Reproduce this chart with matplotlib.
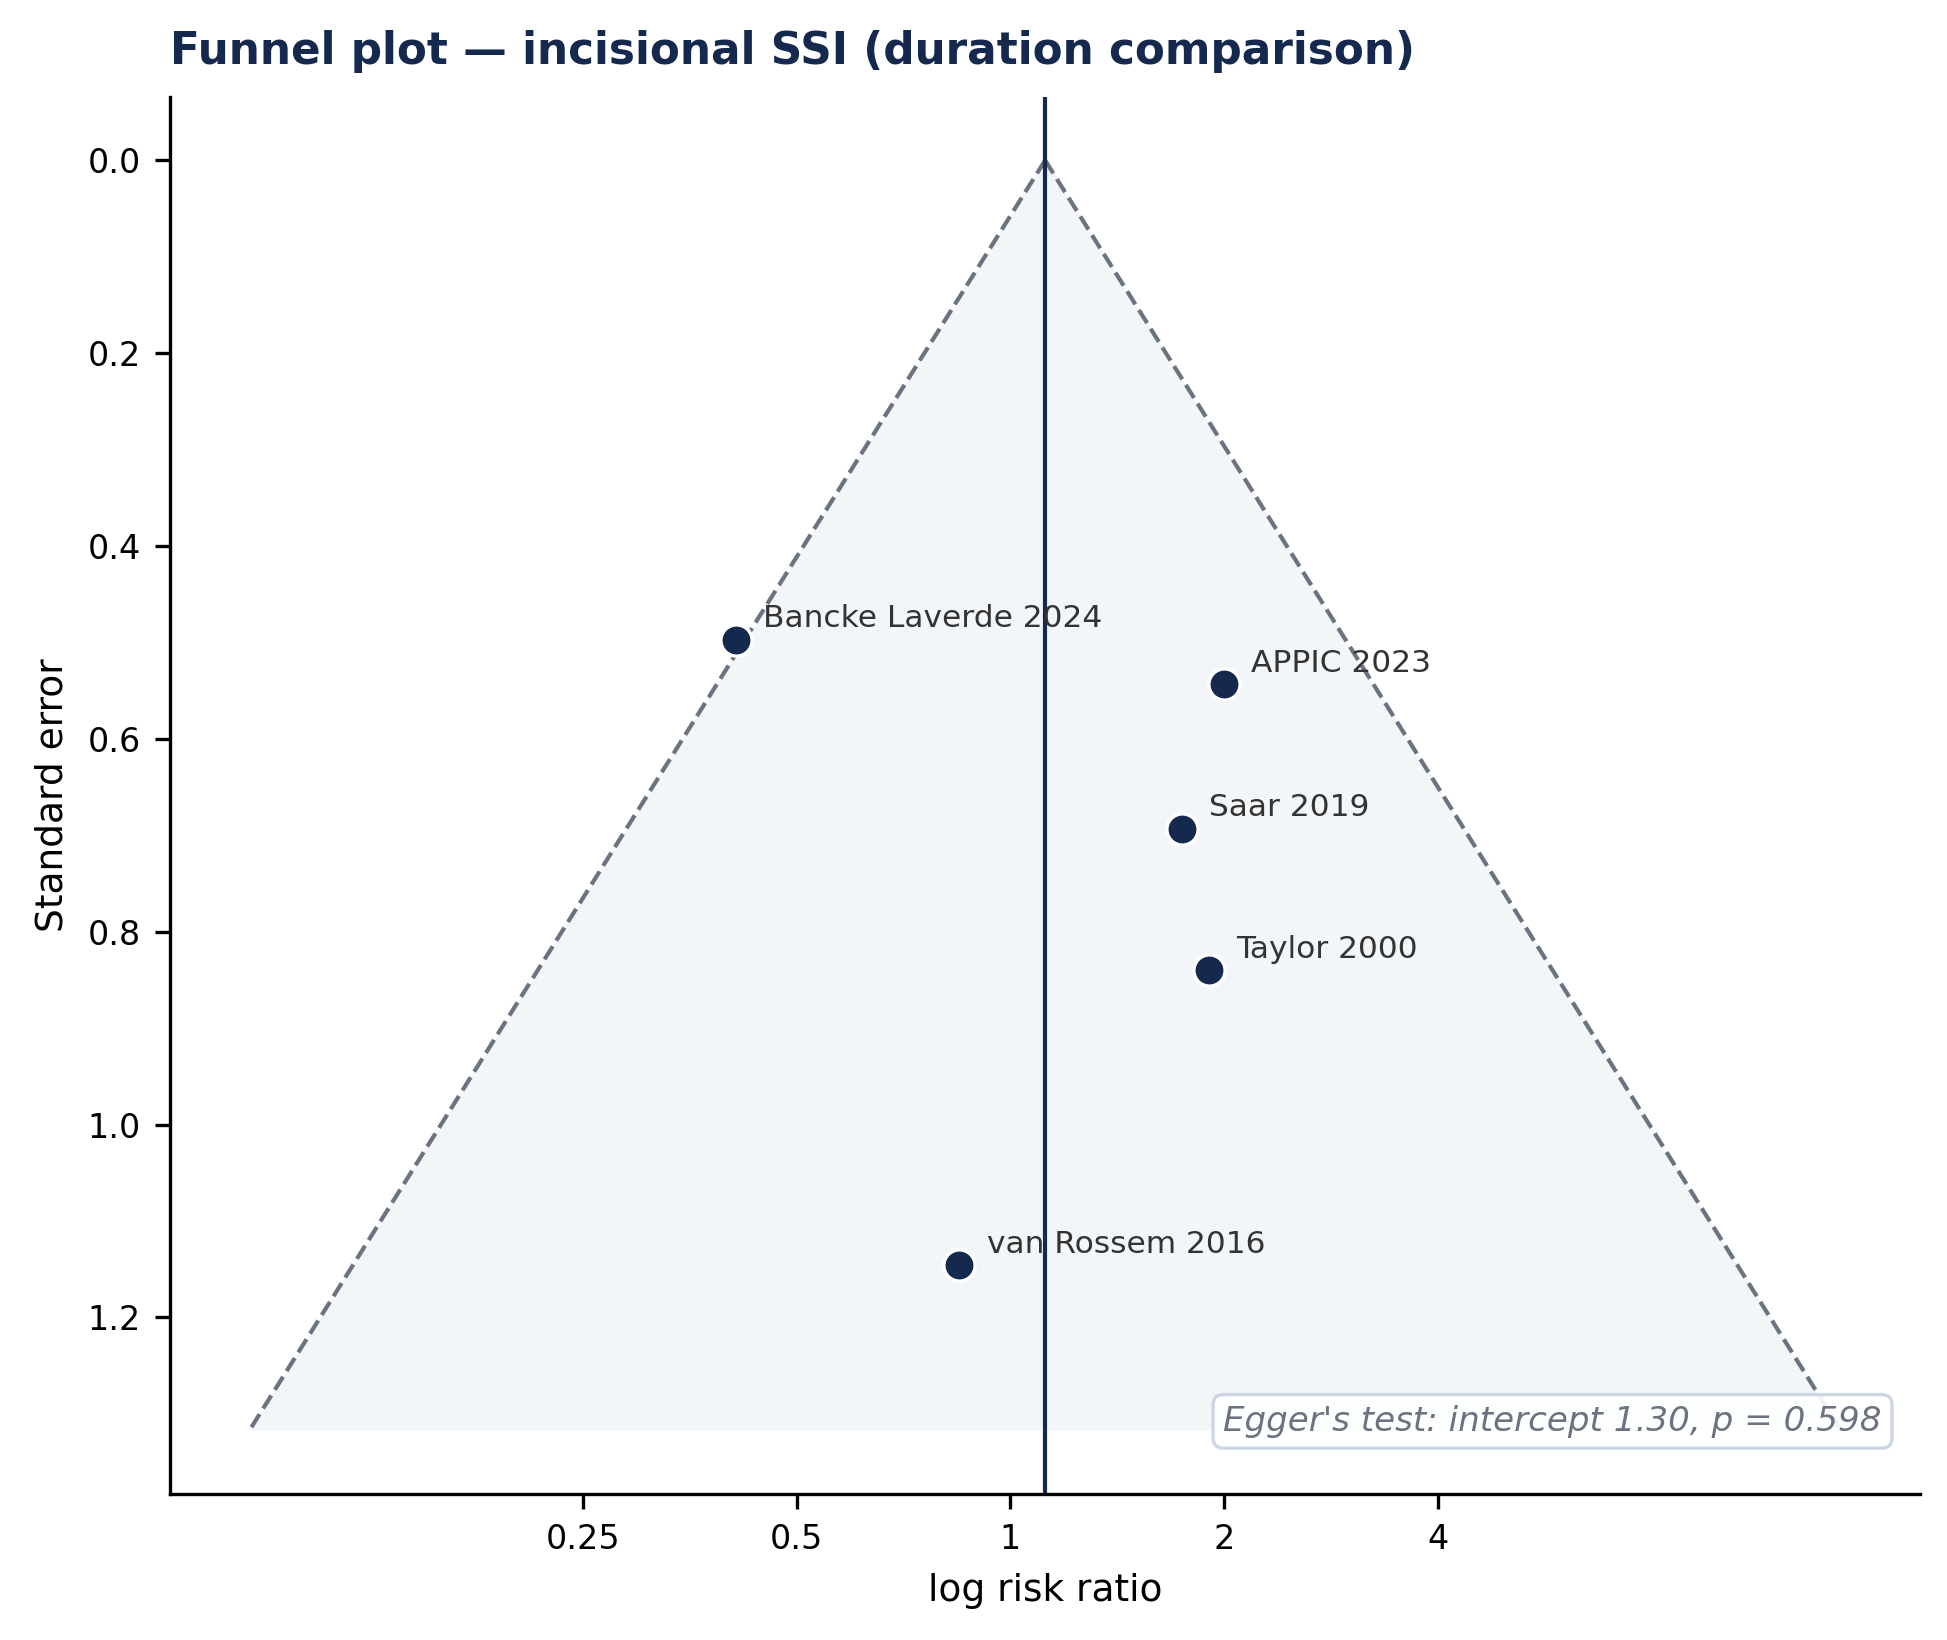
import numpy as np
import matplotlib
matplotlib.use("Agg")
import matplotlib.pyplot as plt

# studies
studies = ["Bancke Laverde 2024", "APPIC 2023", "Saar 2019", "Taylor 2000", "van Rossem 2016"]
log_rr = [-0.891, 0.694, 0.556, 0.645, -0.165]
se = [0.497, 0.543, 0.693, 0.840, 1.146]

pooled = 0.113
se_max = 1.317

rr_ticks = [0.25, 0.5, 1, 2, 4]
rr_labels = ["0.25", "0.5", "1", "2", "4"]

egger_intercept = 1.30
egger_p = 0.598

navy = "#15284d"
grey = "#6b7280"

fig = plt.figure(figsize=(6.49, 5.467), dpi=300)
ax = fig.add_axes([0.0873, 0.0892, 0.899, 0.8517])

# pseudo 95% confidence funnel
se_grid = np.array([0, se_max])
lo = pooled - 1.96 * se_grid
hi = pooled + 1.96 * se_grid
ax.fill_betweenx(se_grid, lo, hi, color="#f3f6f9", lw=0, zorder=0)
ax.plot(lo, se_grid, ls="--", color=grey, lw=1.0, zorder=1)
ax.plot(hi, se_grid, ls="--", color=grey, lw=1.0, zorder=1)

ax.axvline(pooled, color=navy, lw=1.0, zorder=2)

ax.scatter(log_rr, se, s=56, color=navy, edgecolor="white", linewidth=0.8, zorder=3)
for name, x, y in zip(studies, log_rr, se):
    ax.annotate(name, (x, y), xytext=(6.5, 1.5), textcoords="offset points",
                fontsize=7.5, color="#333333", ha="left", va="bottom")

ax.invert_yaxis()
ax.set_xticks(np.log(rr_ticks))
ax.set_xticklabels(rr_labels)
ax.tick_params(labelsize=8)

ax.set_xlabel("log risk ratio", fontsize=9)
ax.set_ylabel("Standard error", fontsize=9)
ax.set_title("Funnel plot \u2014 incisional SSI (duration comparison)", loc="left",
             fontsize=10.5, fontweight="bold", color=navy, pad=8)

ax.spines["top"].set_visible(False)
ax.spines["right"].set_visible(False)

ax.text(0.978, 0.04, f"Egger's test: intercept {egger_intercept:.2f}, p = {egger_p:.3f}",
        transform=ax.transAxes, ha="right", va="bottom", fontsize=8.2,
        style="italic", color=grey,
        bbox=dict(boxstyle="round,pad=0.3", fc="white", ec="#c8d2e0", lw=0.8, alpha=0.9))

fig.savefig("out.png", dpi=300)
